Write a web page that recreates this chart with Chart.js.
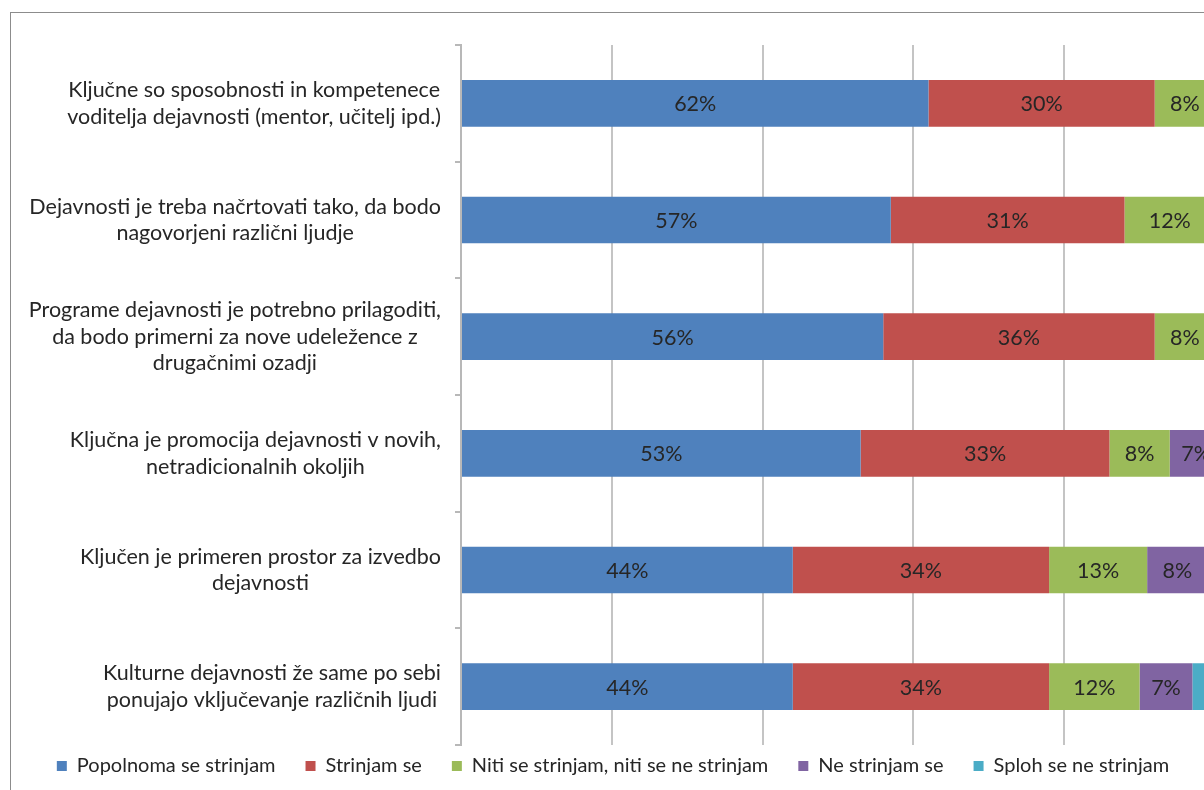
<!DOCTYPE html>
<html lang="sl">
<head>
<meta charset="UTF-8">
<title>Strinjanje s trditvami</title>
<script src="https://cdn.jsdelivr.net/npm/chart.js"></script>
<style>
  html, body { margin: 0; padding: 0; background: #fff; overflow: hidden; }
  #frame { position: absolute; left: 10px; top: 12px; width: 1260px; height: 800px; border: 1px solid #8c8c8c; }
  #chart { display: block; }
</style>
</head>
<body>
<div id="frame"><canvas id="chart" width="1260" height="800"></canvas></div>
<script>
// categories (each one is a list of label lines)
const categories = [
    ['Ključne so sposobnosti in kompetenece', 'voditelja dejavnosti (mentor, učitelj ipd.)'],
    ['Dejavnosti je treba načrtovati tako, da bodo', 'nagovorjeni različni ljudje'],
    ['Programe dejavnosti je potrebno prilagoditi,', 'da bodo primerni za nove udeležence z', 'drugačnimi ozadji'],
    ['Ključna je promocija dejavnosti v novih,', 'netradicionalnih okoljih'],
    ['Ključen je primeren prostor za izvedbo', 'dejavnosti'],
    ['Kulturne dejavnosti že same po sebi', 'ponujajo vključevanje različnih ljudi']
];
const seriesNames = ['Popolnoma se strinjam', 'Strinjam se', 'Niti se strinjam, niti se ne strinjam', 'Ne strinjam se', 'Sploh se ne strinjam'];
const popolnoma = [62, 57, 56, 53, 44, 44];
const strinjam  = [30, 31, 36, 33, 34, 34];
const niti      = [8, 12, 8, 8, 13, 12];
const ne        = [0, 0, 0, 7, 8, 7];
const sploh     = [0, 0, 0, 0, 1, 3];
const xTicks = [0, 20, 40, 60, 80, 100];

const colors = ['#4f81bd', '#c0504d', '#9bbb59', '#8064a2', '#4bacc6'];
const textColor = '#262626';
const FONT = 'Lato, "Open Sans", sans-serif';

// value labels in the middle of each segment
const segmentLabels = {
    id: 'segmentLabels',
    afterDatasetsDraw(chart) {
        const ctx = chart.ctx;
        ctx.save();
        ctx.font = '21.5px ' + FONT;
        ctx.fillStyle = textColor;
        ctx.textAlign = 'center';
        ctx.textBaseline = 'middle';
        chart.data.datasets.forEach((ds, i) => {
            chart.getDatasetMeta(i).data.forEach((el, j) => {
                const v = ds.data[j];
                if (v < 5) return;
                ctx.fillText(v + '%', (el.x + el.base) / 2, el.y + 1);
            });
        });
        ctx.restore();
    }
};

// category labels: block right aligned, lines centred inside the block
const categoryLabels = {
    id: 'categoryLabels',
    afterDraw(chart) {
        const ctx = chart.ctx;
        const y = chart.scales.y;
        const right = y.right - 20;
        const lh = 26.5;
        ctx.save();
        ctx.font = '21.5px ' + FONT;
        ctx.fillStyle = textColor;
        ctx.textAlign = 'center';
        ctx.textBaseline = 'middle';
        categories.forEach((lines, i) => {
            const w = Math.max(...lines.map(l => ctx.measureText(l).width));
            const cx = right - w / 2;
            const cy = y.getPixelForValue(i);
            lines.forEach((l, k) => {
                ctx.fillText(l, cx, cy + (k - (lines.length - 1) / 2) * lh);
            });
        });
        ctx.restore();
    }
};

// pull the legend row up closer to the plot
const legendShift = {
    id: 'legendShift',
    afterLayout(chart) {
        const lg = chart.legend;
        const dy = 19;
        lg.top -= dy;
        lg.bottom -= dy;
    }
};

const values = [popolnoma, strinjam, niti, ne, sploh];

new Chart(document.getElementById('chart'), {
    type: 'bar',
    data: {
        labels: categories,
        datasets: seriesNames.map((name, i) => ({
            label: name,
            data: values[i],
            backgroundColor: colors[i],
            borderWidth: 0,
            barPercentage: 0.4,
            categoryPercentage: 1
        }))
    },
    options: {
        indexAxis: 'y',
        responsive: false,
        animation: false,
        events: [],
        layout: { padding: { left: 0, right: 56, top: 32, bottom: 8 } },
        scales: {
            x: {
                stacked: true,
                min: 0,
                max: 100,
                afterBuildTicks(scale) { scale.ticks = xTicks.map(v => ({ value: v })); },
                ticks: { display: false },
                grid: { color: '#c4c4c4', lineWidth: 2, drawTicks: false },
                border: { display: false }
            },
            y: {
                stacked: true,
                afterFit(scale) { scale.width = 450; },
                ticks: { display: false },
                grid: { offset: true, drawOnChartArea: false, tickLength: 6, color: '#b8b8b8', lineWidth: 2 },
                border: { color: '#b8b8b8', width: 2 }
            }
        },
        plugins: {
            legend: {
                position: 'bottom',
                labels: {
                    boxWidth: 10,
                    boxHeight: 10,
                    padding: 30,
                    color: textColor,
                    font: { family: FONT, size: 20 }
                }
            },
            tooltip: { enabled: false }
        }
    },
    plugins: [segmentLabels, categoryLabels, legendShift]
});
</script>
</body>
</html>
